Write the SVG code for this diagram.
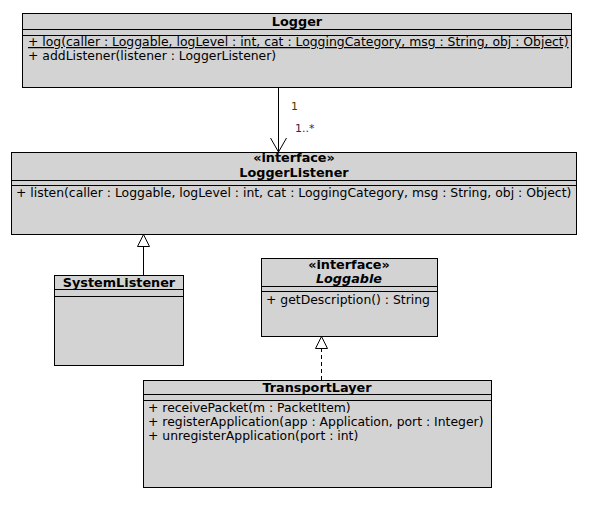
<svg xmlns="http://www.w3.org/2000/svg" width="590" height="505" viewBox="0 0 590 505">
<style>
.box{fill:#d3d3d3;stroke:#000;stroke-width:1}
.sep{stroke:#000;stroke-width:1}
text{font-family:"DejaVu Sans",sans-serif;font-size:12.4px;fill:#000}
.t{font-weight:bold;text-anchor:middle;font-size:12.8px}
.i{font-style:italic}
.m{font-size:11px}
.ln{stroke:#000;stroke-width:1;fill:none}
.tri{fill:#fff;stroke:#000;stroke-width:1}
</style>
<rect width="590" height="505" fill="#fff"/>
<g id="connectors">
<line class="ln" x1="278.5" y1="87" x2="278.5" y2="152"/>
<polyline class="ln" points="270.5,138 278.5,152 286.5,138"/>
<text class="m" x="291" y="110" style="fill:#404000">1</text>
<text class="m" x="295" y="132" style="fill:#402040">1..*</text>
<line class="ln" x1="143.5" y1="247" x2="143.5" y2="275"/>
<polygon class="tri" points="143.5,234.5 137.5,246.5 149.5,246.5"/>
<line class="ln" x1="321.5" y1="348" x2="321.5" y2="380" stroke-dasharray="4,3"/>
<polygon class="tri" points="321.5,336.5 315.5,348.5 327.5,348.5"/>
</g>
<g id="Logger">
<rect class="box" x="22.5" y="13.5" width="549" height="74"/>
<line class="sep" x1="22.5" y1="29.5" x2="571.5" y2="29.5"/>
<line class="sep" x1="22.5" y1="35.5" x2="571.5" y2="35.5"/>
<text class="t" x="297" y="25.5">Logger</text>
<text x="28" y="46" text-decoration="underline">+ log(caller : Loggable, logLevel : int, cat : LoggingCategory, msg : String, obj : Object)</text>
<text x="28" y="60">+ addListener(listener : LoggerListener)</text>
</g>
<g id="LoggerListener">
<rect class="box" x="11.5" y="152.5" width="565" height="82"/>
<line class="sep" x1="11.5" y1="180.5" x2="576.5" y2="180.5"/>
<line class="sep" x1="11.5" y1="185.5" x2="576.5" y2="185.5"/>
<text class="t" x="294" y="162">«interface»</text>
<text class="t" x="294" y="177">LoggerListener</text>
<text x="16" y="197">+ listen(caller : Loggable, logLevel : int, cat : LoggingCategory, msg : String, obj : Object)</text>
</g>
<g id="SystemListener">
<rect class="box" x="54.5" y="275.5" width="129" height="90"/>
<line class="sep" x1="54.5" y1="289.5" x2="183.5" y2="289.5"/>
<line class="sep" x1="54.5" y1="296.5" x2="183.5" y2="296.5"/>
<text class="t" x="119" y="287">SystemListener</text>
</g>
<g id="Loggable">
<rect class="box" x="261.5" y="258.5" width="176" height="78"/>
<line class="sep" x1="261.5" y1="286.5" x2="437.5" y2="286.5"/>
<line class="sep" x1="261.5" y1="291.5" x2="437.5" y2="291.5"/>
<text class="t" x="349" y="269">«interface»</text>
<text class="t i" x="349" y="283">Loggable</text>
<text x="266" y="304">+ getDescription() : String</text>
</g>
<g id="TransportLayer">
<rect class="box" x="143.5" y="380.5" width="348" height="107"/>
<line class="sep" x1="143.5" y1="394.5" x2="491.5" y2="394.5"/>
<line class="sep" x1="143.5" y1="400.5" x2="491.5" y2="400.5"/>
<text class="t" x="317" y="392">TransportLayer</text>
<text x="148" y="412">+ receivePacket(m : PacketItem)</text>
<text x="148" y="426">+ registerApplication(app : Application, port : Integer)</text>
<text x="148" y="440">+ unregisterApplication(port : int)</text>
</g>
</svg>
